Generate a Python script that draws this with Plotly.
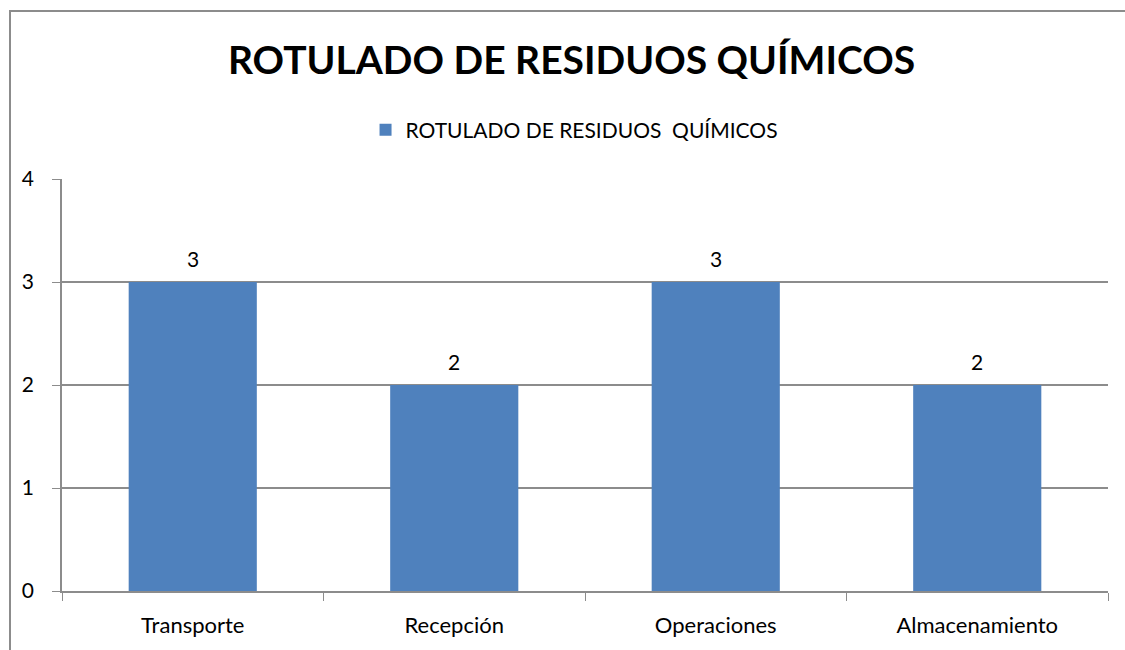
import plotly.graph_objects as go

# Chart data
categories = ['Transporte', 'Recepción', 'Operaciones', 'Almacenamiento']
values = [3, 2, 3, 2]
series_name = 'ROTULADO DE RESIDUOS  QUÍMICOS'
chart_title = 'ROTULADO DE RESIDUOS QUÍMICOS'
y_ticks = [0, 1, 2, 3, 4]

BAR_COLOR = '#4F81BD'
GRID_COLOR = '#8C8C8C'
FONT = 'Lato, Open Sans, sans-serif'

fig = go.Figure()

fig.add_trace(go.Bar(
    x=categories,
    y=values,
    name=series_name,
    marker=dict(color=BAR_COLOR, line=dict(width=0)),
    width=0.49,
    showlegend=True
))

# data labels above each bar
for cat, val in zip(categories, values):
    fig.add_annotation(
        x=cat, y=val, text=str(val), showarrow=False,
        yanchor='middle', yshift=24,
        font=dict(size=21, color='#000000', family=FONT)
    )

fig.update_layout(
    width=1125,
    height=650,
    margin=dict(l=62, r=17, t=179, b=59),
    paper_bgcolor='white',
    plot_bgcolor='white',
    font=dict(family=FONT, size=21, color='#000000'),
    title=dict(
        text='<b>' + chart_title + '</b>',
        x=0.508, xanchor='center',
        y=1 - 60 / 650, yanchor='middle',
        font=dict(size=39, family=FONT, color='#000000')
    ),
    legend=dict(
        orientation='h',
        x=0.49, xanchor='center',
        y=(591 - 130) / 412, yanchor='middle',
        font=dict(size=21, family=FONT),
        itemsizing='constant',
        itemwidth=30
    ),
    bargap=0.51,
    showlegend=True
)

fig.update_xaxes(
    type='category',
    showgrid=False,
    showline=True, linecolor=GRID_COLOR, linewidth=1.5,
    ticks='outside', tickson='boundaries', ticklen=8, tickcolor=GRID_COLOR,
    tickfont=dict(size=22, family=FONT),
    ticklabelstandoff=14
)

fig.update_yaxes(
    range=[0, 4],
    tickvals=y_ticks,
    showgrid=True, gridcolor=GRID_COLOR, gridwidth=1.5,
    showline=True, linecolor=GRID_COLOR, linewidth=1.5,
    ticks='outside', ticklen=8, tickcolor=GRID_COLOR,
    tickfont=dict(size=21, family=FONT),
    ticklabelstandoff=14,
    zeroline=False
)

# Outer chart border (cropped at right and bottom in the reference)
fig.add_shape(
    type='rect', xref='paper', yref='paper',
    x0=-52 / 1046, x1=1.1, y0=-0.3, y1=580 / 412,
    line=dict(color='#8C8C8C', width=2),
    fillcolor='rgba(0,0,0,0)', layer='below'
)

fig.write_html('out.html', config={'displayModeBar': False},
               post_script="document.body.style.margin='0';")
